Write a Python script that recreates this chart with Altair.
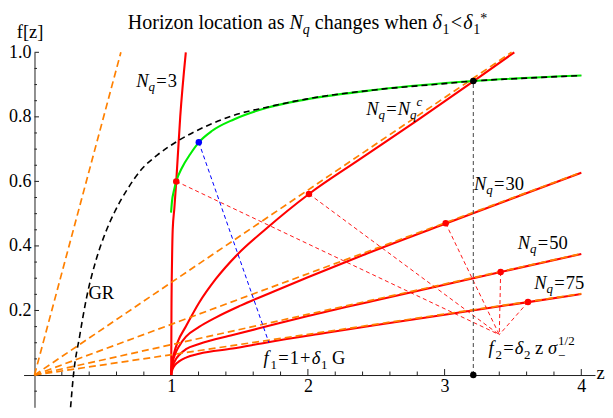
import altair as alt
import pandas as pd

# ---------------- values ----------------
# red horizon curves f(z), one per N_q
nq3_z = [1.000, 1.002, 1.006, 1.011, 1.023, 1.037, 1.066, 1.107]
nq3_f = [0.000, 0.200, 0.350, 0.450, 0.516, 0.600, 0.800, 1.000]
nqc_z = [1.000, 1.005, 1.020, 1.050, 1.108, 1.204, 1.325, 1.483, 1.688, 2.008, 2.378, 2.800, 3.210, 3.510]
nqc_f = [0.000, 0.033, 0.066, 0.105, 0.151, 0.224, 0.297, 0.373, 0.451, 0.561, 0.668, 0.789, 0.910, 1.000]
nq30_z = [1.000, 1.002, 1.010, 1.030, 1.060, 1.108, 1.204, 1.325, 1.507, 1.750, 2.000, 2.400, 3.000, 3.500, 4.000]
nq30_f = [0.000, 0.016, 0.038, 0.066, 0.091, 0.119, 0.149, 0.178, 0.215, 0.259, 0.303, 0.371, 0.468, 0.548, 0.627]
nq50_z = [1.000, 1.002, 1.010, 1.030, 1.060, 1.108, 1.204, 1.450, 1.700, 2.000, 2.500, 3.000, 3.410, 4.000]
nq50_f = [0.000, 0.011, 0.026, 0.046, 0.063, 0.080, 0.096, 0.124, 0.151, 0.183, 0.232, 0.280, 0.319, 0.375]
nq75_z = [1.000, 1.002, 1.010, 1.030, 1.060, 1.108, 1.204, 1.450, 1.700, 2.124, 2.500, 3.000, 3.610, 4.000]
nq75_f = [0.000, 0.007, 0.018, 0.032, 0.043, 0.054, 0.066, 0.082, 0.101, 0.130, 0.155, 0.187, 0.226, 0.251]

# orange dashed asymptotes from the origin: end points
orange_z_end = [0.632, 3.490, 4.000, 4.000, 4.000]
orange_f_end = [1.000, 1.000, 0.628, 0.376, 0.252]

# GR (black dashed) and green curve
gr_z = [0.264, 0.285, 0.330, 0.381, 0.450, 0.520, 0.587, 0.680, 0.780, 0.900, 1.047,
        1.250, 1.458, 1.700, 1.986, 2.500, 3.000, 3.210, 3.600, 4.000]
gr_f = [-0.100, 0.000, 0.120, 0.240, 0.356, 0.442, 0.506, 0.576, 0.636, 0.682, 0.725,
        0.770, 0.805, 0.830, 0.855, 0.884, 0.903, 0.911, 0.920, 0.928]
green_z = [0.999, 1.005, 1.022, 1.037, 1.080, 1.140, 1.202, 1.300, 1.458, 1.700, 1.986, 2.500, 3.210, 4.000]
green_f = [0.503, 0.535, 0.575, 0.600, 0.643, 0.685, 0.721, 0.757, 0.792, 0.828, 0.854, 0.884, 0.911, 0.928]

# marked points
red_dot_z = [1.037, 2.008, 3.008, 3.410, 3.610]
red_dot_f = [0.600, 0.561, 0.470, 0.319, 0.226]
blue_dot_z = [1.202]
blue_dot_f = [0.721]
black_dot_z = [3.210, 3.210]
black_dot_f = [0.911, 0.000]

# point where the thin red dashed lines meet (f2 construction)
f2_meet_z = 3.400
f2_meet_f = 0.125
# end of the blue dashed line (f1 construction)
blue_end_z = 1.715
blue_end_f = 0.100

# axis ticks
x_major = [1, 2, 3, 4]
x_minor = [0.2, 0.4, 0.6, 0.8, 1.2, 1.4, 1.6, 1.8, 2.2, 2.4, 2.6, 2.8, 3.2, 3.4, 3.6, 3.8]
y_major = [0.2, 0.4, 0.6, 0.8, 1.0]
y_minor = [-0.05, 0.05, 0.1, 0.15, 0.25, 0.3, 0.35, 0.45, 0.5, 0.55, 0.65, 0.7, 0.75, 0.85, 0.9, 0.95]

# ---------------- layout and style ----------------
FONT = "Liberation Serif"
RED, ORANGE, GREEN, BLUE = "#ff0000", "#ff8000", "#00ee00", "#0000ff"
XDOM = [-0.08, 4.1]
YDOM = [-0.1, 1.0]
PXU = 136.7                      # pixels per z unit
W = (XDOM[1] - XDOM[0]) * PXU
H = 355.0
PYU = H / (YDOM[1] - YDOM[0])    # pixels per f unit
PAD_L, PAD_T = 15.56, 44.3

xs = alt.Scale(domain=XDOM, nice=False, zero=False)
ys = alt.Scale(domain=YDOM, nice=False, zero=False)
xax = alt.Axis(values=x_major, format="d", offset=-(0 - YDOM[0]) * PYU, ticks=False, grid=False,
               title=None, labelFont=FONT, labelFontSize=18, labelColor="black",
               domainColor="#222222", domainWidth=1, labelPadding=2, labelFlush=False)
yax = alt.Axis(values=y_major, format=".1f", offset=-(0 - XDOM[0]) * PXU, ticks=False, grid=False,
               title=None, labelFont=FONT, labelFontSize=18, labelColor="black",
               domainColor="#222222", domainWidth=1, labelPadding=3.5)


def X(field="z"):
    return alt.X(field, type="quantitative", scale=xs, axis=xax)


def Y(field="f"):
    return alt.Y(field, type="quantitative", scale=ys, axis=yax)


layers = []

# tick marks pointing into the plot
tx = pd.DataFrame({"z": x_major + x_minor, "f": [0.0] * (len(x_major) + len(x_minor)),
                   "f2": [6.0 / PYU] * len(x_major) + [3.5 / PYU] * len(x_minor)})
ty = pd.DataFrame({"z": [0.0] * (len(y_major) + len(y_minor)), "f": y_major + y_minor,
                   "z2": [4.5 / PXU] * len(y_major) + [2.5 / PXU] * len(y_minor)})
layers.append(alt.Chart(tx).mark_rule(color="#222222", strokeWidth=1).encode(x=X(), y=Y(), y2="f2"))
layers.append(alt.Chart(ty).mark_rule(color="#222222", strokeWidth=1).encode(x=X(), y=Y(), x2="z2"))

# red curves
curves = []
for name, zz, ff in [("3", nq3_z, nq3_f), ("c", nqc_z, nqc_f), ("30", nq30_z, nq30_f),
                     ("50", nq50_z, nq50_f), ("75", nq75_z, nq75_f)]:
    curves.append(pd.DataFrame({"z": zz, "f": ff, "series": name}))
red_df = pd.concat(curves, ignore_index=True)
layers.append(alt.Chart(red_df).mark_line(color=RED, strokeWidth=2.1, interpolate="monotone")
              .encode(x=X(), y=Y(), detail="series:N"))

# orange dashed straight lines from the origin
orange_df = pd.DataFrame({"z": [0.0] * len(orange_z_end), "f": [0.0] * len(orange_z_end),
                          "z2": orange_z_end, "f2": orange_f_end})
layers.append(alt.Chart(orange_df).mark_rule(color=ORANGE, strokeWidth=1.7, strokeDash=[7, 4])
              .encode(x=X(), y=Y(), x2="z2", y2="f2"))

# green curve
green_df = pd.DataFrame({"z": green_z, "f": green_f})
layers.append(alt.Chart(green_df).mark_line(color=GREEN, strokeWidth=2.1, interpolate="monotone")
              .encode(x=X(), y=Y()))

# GR black dashed
gr_df = pd.DataFrame({"z": gr_z, "f": gr_f})
layers.append(alt.Chart(gr_df).mark_line(color="black", strokeWidth=1.6, strokeDash=[6, 4],
                                         interpolate="monotone").encode(x=X(), y=Y()))

# thin red dashed construction lines
thin_df = pd.DataFrame({"z": red_dot_z, "f": red_dot_f,
                        "z2": [f2_meet_z] * len(red_dot_z), "f2": [f2_meet_f] * len(red_dot_z)})
layers.append(alt.Chart(thin_df).mark_rule(color=RED, strokeWidth=0.9, strokeDash=[4, 3])
              .encode(x=X(), y=Y(), x2="z2", y2="f2"))

# blue dashed construction line
blue_df = pd.DataFrame({"z": blue_dot_z, "f": blue_dot_f, "z2": [blue_end_z], "f2": [blue_end_f]})
layers.append(alt.Chart(blue_df).mark_rule(color=BLUE, strokeWidth=1, strokeDash=[4, 3])
              .encode(x=X(), y=Y(), x2="z2", y2="f2"))

# vertical dashed line at the GR crossing
vert_df = pd.DataFrame({"z": [black_dot_z[1]], "f": [black_dot_f[1]], "f2": [black_dot_f[0]]})
layers.append(alt.Chart(vert_df).mark_rule(color="#444444", strokeWidth=1, strokeDash=[4, 3])
              .encode(x=X(), y=Y(), y2="f2"))

# dots
for zz, ff, col in [(red_dot_z, red_dot_f, RED), (blue_dot_z, blue_dot_f, BLUE),
                    (black_dot_z, black_dot_f, "black")]:
    layers.append(alt.Chart(pd.DataFrame({"z": zz, "f": ff}))
                  .mark_circle(color=col, size=42, opacity=1).encode(x=X(), y=Y()))

# ---------------- typeset text (pieces with sub/superscripts) ----------------
REG = {" ": .25, ".": .25, "=": .564, "+": .564, "<": .564, "*": .5, "[": .333, "]": .333,
       "/": .278, "\u2212": .564, "H": .722, "G": .722, "R": .667, "a": .444, "c": .444,
       "e": .444, "f": .333, "g": .5, "h": .5, "i": .278, "l": .278, "n": .5, "o": .5,
       "r": .333, "s": .389, "t": .278, "w": .722, "z": .444, "\u03b4": .5, "\u03c3": .55}
for d in "0123456789":
    REG[d] = .5
ITA = {"N": .667, "q": .5, "c": .444, "f": .278, "\u03b4": .5, "\u03c3": .55}


def text_width(s, italic, size):
    t = ITA if italic else REG
    return sum(t.get(ch, REG.get(ch, .5)) for ch in s) * size


def typeset(parts, base, op_pad=0.06, sub=0.24, sup=0.42, stack=0.32):
    out, x = [], 0.0
    for text, italic, kind in parts:
        small = kind in ("sub", "sup", "stack")
        size = base * 0.7 if small else base
        lead = len(text) - len(text.lstrip(" "))
        trail = len(text) - len(text.rstrip(" "))
        core = text.strip(" ")
        x += lead * 0.25 * size
        if kind == "op":
            x += op_pad * base
        dy = {"sub": sub * base, "stack": stack * base, "sup": -sup * base}.get(kind, 0.0)
        out.append((core, italic, size, x, dy))
        if kind != "stack":
            x += text_width(core, italic, size)
            if italic and core.endswith("f"):
                x += 0.1 * base
            x += trail * 0.25 * size
        if kind == "op":
            x += op_pad * base
    return out, x


def text_mark(text, italic, size, dx, dy):
    return dict(text=text, dx=dx, dy=dy, align="left", baseline="alphabetic", font=FONT,
                fontSize=size, fontStyle="italic" if italic else "normal", color="black")


LBL = 18.5
labels = [
    (0.744, 0.893, [("N", 1, "n"), ("q", 1, "sub"), ("=", 0, "op"), ("3", 0, "n")]),
    (0.395, 0.236, [("GR", 0, "n")]),
    (2.427, 0.807, [("N", 1, "n"), ("q", 1, "sub"), ("=", 0, "op"), ("N", 1, "n"), ("q", 1, "sub"),
                    ("c", 1, "sup")]),
    (3.215, 0.574, [("N", 1, "n"), ("q", 1, "sub"), ("=", 0, "op"), ("30", 0, "n")]),
    (3.535, 0.392, [("N", 1, "n"), ("q", 1, "sub"), ("=", 0, "op"), ("50", 0, "n")]),
    (3.656, 0.268, [("N", 1, "n"), ("q", 1, "sub"), ("=", 0, "op"), ("75", 0, "n")]),
    (1.676, 0.033, [("f", 1, "n"), ("1", 0, "sub"), ("=", 0, "op"), ("1", 0, "n"), ("+", 0, "op"),
                    ("\u03b4", 1, "n"), ("1", 0, "sub"), (" G", 0, "n")]),
    (3.322, 0.064, [("f", 1, "n"), ("2", 0, "sub"), ("=", 0, "op"), ("\u03b4", 1, "n"), ("2", 0, "sub"),
                    (" z ", 0, "n"), ("\u03c3", 1, "n"), ("\u2212", 0, "stack"), ("1/2", 0, "sup")]),
    (-0.13, 1.044, [("f[z]", 0, "n")]),
    (4.112, -0.012, [("z", 0, "n")]),
]

for z0, f0, parts in labels:
    anchor = pd.DataFrame({"z": [z0], "f": [f0]})
    segs, _ = typeset(parts, LBL, sup=0.48)
    for text, italic, size, dx, dy in segs:
        layers.append(alt.Chart(anchor).mark_text(**text_mark(text, italic, size, dx, dy))
                      .encode(x=X(), y=Y()))

# title, centred above the plot
TITLE = 20
title_parts = [("Horizon location as ", 0, "n"), ("N", 1, "n"), ("q", 1, "sub"),
               (" changes when ", 0, "n"), ("\u03b4", 1, "n"), ("1", 0, "sub"), ("<", 0, "op"),
               ("\u03b4", 1, "n"), ("1", 0, "sub"), ("*", 0, "sup")]
tsegs, twidth = typeset(title_parts, TITLE, sup=0.3)
t_x0 = 284.0 - twidth / 2.0
t_base = -23.5
title_anchor = pd.DataFrame({"k": [0]})
for text, italic, size, dx, dy in tsegs:
    layers.append(alt.Chart(title_anchor).mark_text(**text_mark(text, italic, size, dx, dy))
                  .encode(x=alt.value(t_x0), y=alt.value(t_base)))

chart = (alt.layer(*layers)
         .properties(width=W, height=H, autosize="none",
                     padding={"left": PAD_L, "top": PAD_T, "right": 597 - PAD_L - W, "bottom": 2.7},
                     background="white")
         .configure_view(strokeWidth=0))

chart.save("out.html", embed_options={"renderer": "svg", "actions": False})
